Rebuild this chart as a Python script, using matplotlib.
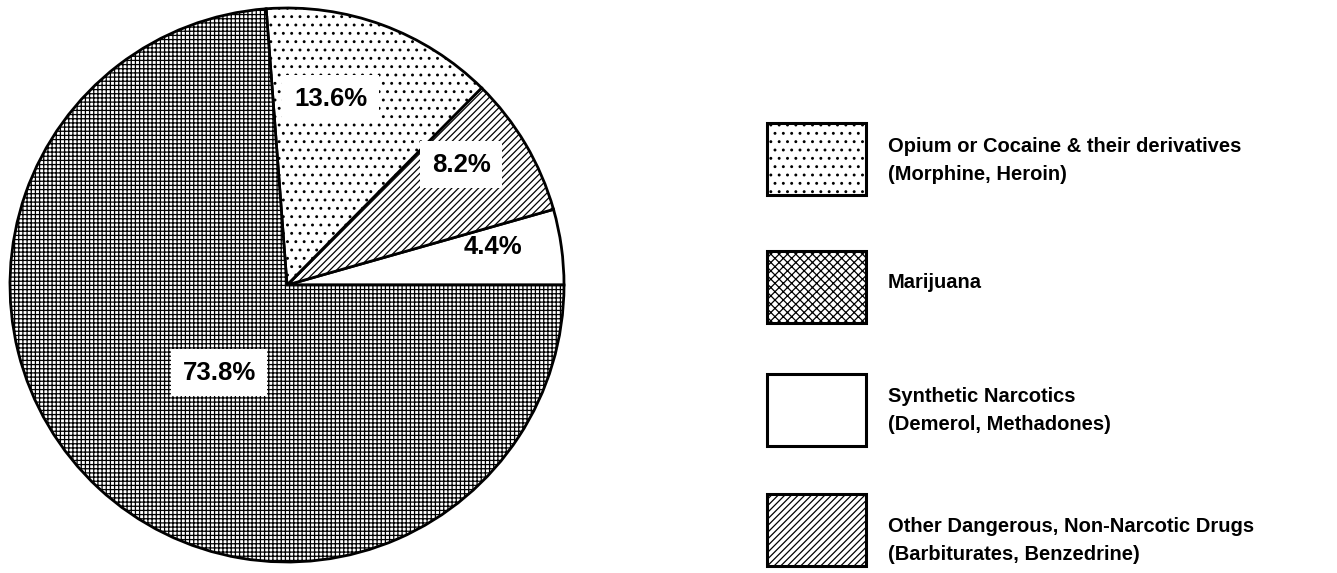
import numpy as np
import matplotlib
matplotlib.use("Agg")
import matplotlib.pyplot as plt
from matplotlib.patches import Rectangle

# --- data ---
categories = ["Opium or Cocaine & their derivatives\n(Morphine, Heroin)",
              "Marijuana",
              "Synthetic Narcotics\n(Demerol, Methadones)",
              "Other Dangerous, Non-Narcotic Drugs\n(Barbiturates, Benzedrine)"]
shares = [13.6, 73.8, 4.4, 8.2]
pie_hatch = ["..", "++++", "", "/////"]
legend_hatch = ["..", "xxxx", "", "/////"]

# pie goes counter-clockwise from 3 o'clock: synthetic, other, opium, marijuana
pie_order = [2, 3, 0, 1]
# label radius as fraction of pie radius, plus angle nudge (deg)
label_r = [0.755, 0.765, 0.69, 0.40]
label_da = [2.5, 4, 7, 5]

plt.rcParams["hatch.linewidth"] = 0.9
plt.rcParams["font.family"] = ["Liberation Sans", "DejaVu Sans"]

fig = plt.figure(figsize=(13.37, 5.73), dpi=100)
ax = fig.add_axes([0, 0, 1, 1])

cx, cy, R = 287, 288, 277
vals = [shares[i] for i in pie_order]
hatches = [pie_hatch[i] for i in pie_order]
wedges, _ = ax.pie(vals, colors=["white"] * 4, hatch=hatches,
                   startangle=0, counterclock=True, center=(cx, cy), radius=R,
                   wedgeprops=dict(edgecolor="black", linewidth=2),
                   frame=True)

for k, w in enumerate(wedges):
    mid = np.deg2rad((w.theta1 + w.theta2) / 2 + label_da[k])
    r = R * label_r[k]
    # white patch behind the label only where the slice is patterned
    bb = dict(boxstyle="square,pad=0.45", facecolor="white", edgecolor="none") if hatches[k] else None
    ax.text(cx + r * np.cos(mid), cy + r * np.sin(mid), f"{vals[k]:.1f}%",
            ha="center", va="center", fontsize=18.5, fontweight="bold", bbox=bb)

# legend, drawn by hand
box_x, box_w, box_h = 767, 99, 72
box_y = [414, 286, 163, 43]
text_y = [412, 290, 163, 33]
for i, lab in enumerate(categories):
    ax.add_patch(Rectangle((box_x, box_y[i] - box_h / 2), box_w, box_h,
                           facecolor="white", edgecolor="black", linewidth=2.2,
                           hatch=legend_hatch[i]))
    ax.text(888, text_y[i], lab, ha="left", va="center", fontsize=14.5,
            fontweight="bold", linespacing=1.6)

ax.set_xlim(0, 1337)
ax.set_ylim(0, 573)
ax.set_aspect("equal")
ax.axis("off")

fig.savefig("out.png", dpi=100, facecolor="white")
